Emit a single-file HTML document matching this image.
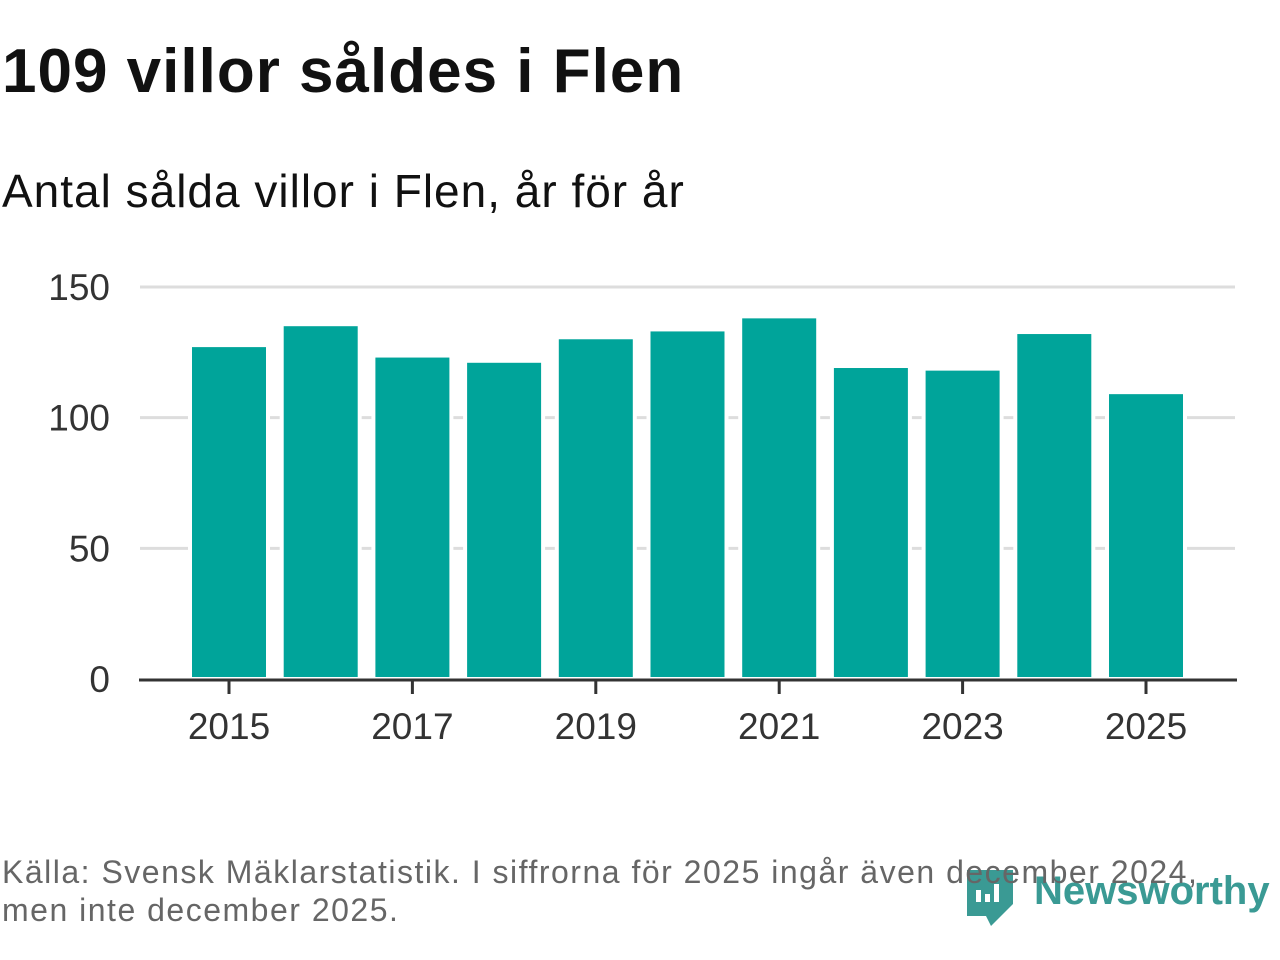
<!DOCTYPE html>
<html><head><meta charset="utf-8"><style>
body{margin:0;width:1280px;height:960px;background:#fff;font-family:"Liberation Sans","DejaVu Sans",sans-serif;overflow:hidden;position:relative}
.t{position:absolute;left:2px;top:36px;font-size:62px;letter-spacing:1px;font-weight:bold;color:#111;margin:0}
.s{position:absolute;left:2px;top:164px;font-size:46px;letter-spacing:1px;color:#111}
.f{position:absolute;left:2px;top:853px;font-size:32px;letter-spacing:1.5px;line-height:38px;color:#666;white-space:nowrap}
.logo{position:absolute;left:964px;top:862px}
</style></head><body>
<h1 class="t">109 villor såldes i Flen</h1>
<div class="s">Antal sålda villor i Flen, år för år</div>
<svg id="c" width="1280" height="960" style="position:absolute;left:0;top:0"></svg>
<div class="logo">
<svg width="316" height="66"><path d="M3 8h46v34l-22 22-5-10H3z" fill="#3a9a94"/><rect x="12" y="28" width="5" height="12" fill="#fff"/><rect x="21" y="32" width="5" height="8" fill="#fff"/><rect x="30" y="22" width="5" height="18" fill="#fff"/><text x="70" y="42" font-family="Liberation Sans, sans-serif" font-size="40" font-weight="bold" fill="#3a9a94">Newsworthy</text></svg>
</div>
<div class="f">Källa: Svensk Mäklarstatistik. I siffrorna för 2025 ingår även december 2024,<br>men inte december 2025.</div>
<script>
const years=[2015,2016,2017,2018,2019,2020,2021,2022,2023,2024,2025];
const sold=[127,135,123,121,130,133,138,119,118,132,109];
const yTicks=[0,50,100,150];
const xTickYears=[2015,2017,2019,2021,2023,2025];
const NS="http://www.w3.org/2000/svg",svg=document.getElementById('c');
const y=v=>679-v*392/150;
const x=yr=>229+(yr-2015)*91.7;
function mk(t,a){const e=document.createElementNS(NS,t);for(const k in a)e.setAttribute(k,a[k]);svg.appendChild(e);return e;}
yTicks.forEach(v=>{
 if(v>0){const g=mk('line',{x1:140,x2:1235,y1:y(v),y2:y(v),stroke:'#ddd','stroke-width':3});
 
 }
 const t=mk('text',{x:110,y:y(v)+13,'text-anchor':'end','font-size':37,fill:'#333','font-family':'Liberation Sans, sans-serif'});t.textContent=v;
 
 
});
years.forEach((yr,i)=>{
 const r=mk('rect',{x:x(yr)-39,y:y(sold[i])-2,width:78,height:681-y(sold[i]),fill:'#00a49a',stroke:'#fff','stroke-width':4});
 
 
});
const ax=mk('line',{x1:139,x2:1237,y1:680,y2:680,stroke:'#333','stroke-width':3});


xTickYears.forEach(yr=>{
 const tk=mk('line',{x1:x(yr),x2:x(yr),y1:680,y2:694,stroke:'#333','stroke-width':3});
 
 
 const t=mk('text',{x:x(yr),y:739,'text-anchor':'middle','font-size':37,fill:'#333','font-family':'Liberation Sans, sans-serif'});t.textContent=yr;
 
 
});
</script>
</body></html>
